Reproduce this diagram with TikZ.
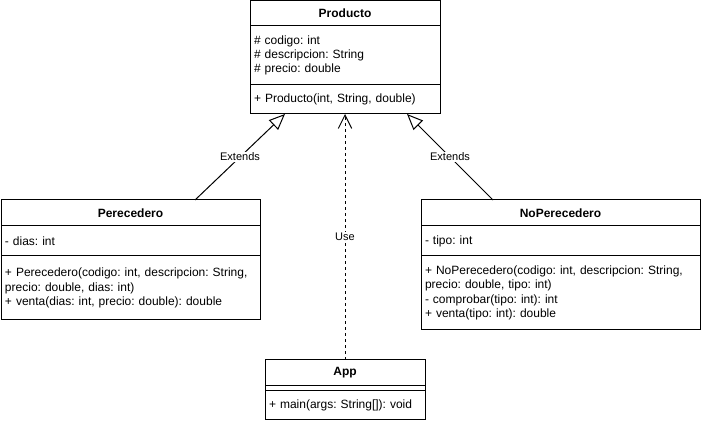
\documentclass[tikz,border=0pt]{standalone}
\usepackage{fontspec}
\setmainfont{Liberation Sans}
\frenchspacing
\usetikzlibrary{arrows.meta, positioning}

\begin{document}
\begin{tikzpicture}[x=0.75pt, y=-0.75pt, line width=0.75pt,
        classtitle/.style={draw, outer sep=0pt, inner sep=0pt, minimum height=19.5pt, font=\fontsize{9}{10.8}\selectfont\bfseries, anchor=north west},
        classpart/.style={draw, outer sep=0pt, inner xsep=3pt, inner ysep=3pt, align=left, font=\fontsize{9}{10.8}\selectfont\frenchspacing},
        emptypart/.style={draw, outer sep=0pt, inner sep=0pt},
        generalization/.style={-{Triangle[open, length=12pt, width=10pt]}},
        dependency/.style={-{Straight Barb[length=10pt, width=10pt]}, dash pattern=on 2.25pt off 2.25pt},
        edgelabel/.style={fill=white, inner sep=1pt, font=\fontsize{8.25}{9.9}\selectfont}]
        \useasboundingbox (0,0) rectangle (701,424);
        \node[classtitle, minimum width=142.5pt, minimum height=18.75pt] (prodT) at (250,1) {Producto};
        \node[classpart, text width=136.5pt, minimum height=44.25pt, below=0pt of prodT] (prodA) {\# codigo: int\\\# descripcion: String\\\# precio: double};
        \node[classpart, text width=136.5pt, minimum height=21.75pt, below=0pt of prodA] (prodM) {+ Producto(int, String, double)};
        \node[classtitle, minimum width=194.25pt] (pereT) at (1,200) {Perecedero};
        \node[classpart, text width=188.25pt, minimum height=22.5pt, below=0pt of pereT] (pereA) {- dias: int};
        \node[classpart, text width=188.25pt, minimum height=48pt, below=0pt of pereA] (pereM) {+ Perecedero(codigo: int, descripcion: String,\\precio: double, dias: int)\\+ venta(dias: int, precio: double): double};
        \node[classtitle, minimum width=209.25pt] (noT) at (421,200) {NoPerecedero};
        \node[classpart, text width=203.25pt, minimum height=22.5pt, below=0pt of noT] (noA) {- tipo: int};
        \node[classpart, text width=203.25pt, minimum height=55.5pt, below=0pt of noA] (noM) {+ NoPerecedero(codigo: int, descripcion: String,\\precio: double, tipo: int)\\- comprobar(tipo: int): int\\+ venta(tipo: int): double};
        \node[classtitle, minimum width=120pt] (appT) at (265,360) {App};
        \node[emptypart, minimum width=120pt, minimum height=3.75pt, below=0pt of appT] (appA) {};
        \node[classpart, text width=114pt, minimum height=21.75pt, below=0pt of appA] (appM) {+ main(args: String[]): void};
        \draw[generalization] ([xshift=48.4pt]pereT.north) -- node[edgelabel] {Extends} ([xshift=-45pt]prodM.south);
        \draw[generalization] ([xshift=-50.6pt]noT.north) -- node[edgelabel] {Extends} ([xshift=46.5pt]prodM.south);
        \draw[dependency] (appT.north) -- node[edgelabel] {Use} (prodM.south);
    \end{tikzpicture}
\end{document}
